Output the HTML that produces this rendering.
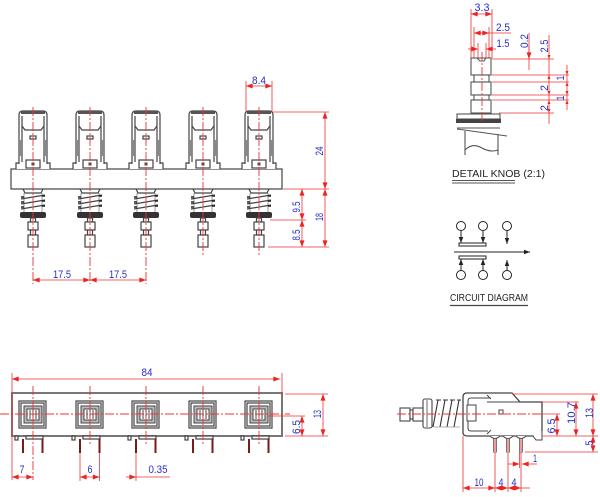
<!DOCTYPE html>
<html><head><meta charset="utf-8">
<style>
html,body{margin:0;padding:0;background:#fff;}
svg{display:block;}
.k{stroke:#444;fill:none;stroke-width:1.2}
.kw{stroke:#444;fill:#fff;stroke-width:1.2}
.r{stroke:#e33;stroke-width:0.8;fill:none}
.c{stroke:#e33;stroke-width:0.9;stroke-dasharray:9 2 2 2;fill:none}
.t{fill:#2630c8;font-family:"Liberation Sans",sans-serif;font-size:11px}
.b{fill:#222;font-family:"Liberation Sans",sans-serif;font-size:10px}
.d{marker-start:url(#a);marker-end:url(#a)}
.e{marker-end:url(#a)}
</style></head><body>
<svg width="600" height="497" viewBox="0 0 600 497" xmlns="http://www.w3.org/2000/svg">
<defs>
<marker id="a" viewBox="0 0 8 6" refX="8" refY="3" markerWidth="7" markerHeight="5" markerUnits="userSpaceOnUse" orient="auto-start-reverse"><path d="M0,0L8,3L0,6z" fill="#e22"/></marker>
<marker id="ka" viewBox="0 0 8 6" refX="8" refY="3" markerWidth="6" markerHeight="5" markerUnits="userSpaceOnUse" orient="auto"><path d="M0,0L8,3L0,6z" fill="#222"/></marker>
<g id="sw">
 <path class="kw" d="M-17,169 V163 H17 V169"/>
 <path class="kw" d="M-14,164 V115 Q-14,111 -10,111 H10 Q14,111 14,115 V164"/>
 <rect x="-12" y="111" width="24" height="3" fill="#555"/>
 <path class="k" d="M-11,116 V162 M11,116 V162" stroke-width="1"/>
 <rect x="-14" y="140" width="3" height="16" fill="#888"/>
 <rect x="11" y="140" width="3" height="16" fill="#888"/>
 <path class="k" d="M-11,126 L-8,130 H8 L11,126" stroke-width="1"/>
 <rect class="k" x="-3" y="136" width="6" height="3" stroke-width="0.9"/>
 <rect class="kw" x="-7" y="160" width="14" height="8" stroke-width="1"/>
 <rect x="-1.5" y="162.5" width="3" height="3" fill="#444"/>
 <path class="k" d="M-10,189 L-8,193 H8 L10,189" stroke-width="1"/>
 <path d="M-9,193 V213 M9,193 V213" stroke="#999" stroke-width="1"/>
 <path class="k" d="M-12,199 L12,195 M-12,204 L12,200 M-12,209 L12,205" stroke-width="1"/>
 <path d="M-12,197 H-9 M-12,202 H-9 M-12,207 H-9 M9,196 H12 M9,201 H12 M9,206 H12" stroke="#222" stroke-width="1.4"/>
 <rect x="-13" y="212" width="26" height="6" rx="2" fill="#333"/>
 <rect class="kw" x="-2.5" y="218" width="5" height="4" stroke-width="1"/>
 <rect class="kw" x="-5" y="222" width="10" height="8" stroke-width="1"/>
 <rect class="kw" x="-2.5" y="230" width="5" height="5" stroke-width="1"/>
 <rect class="kw" x="-5" y="235" width="10" height="12" stroke-width="1"/>
</g>
<g id="bt">
 <rect class="k" x="-14" y="401" width="27" height="27" stroke-width="1.4"/>
 <rect class="k" x="-12" y="403" width="23" height="23" stroke-width="0.8"/>
 <rect x="-9" y="406" width="18" height="17" fill="#bbb" stroke="#444" stroke-width="1"/>
 <rect x="-6" y="409" width="12" height="11" fill="#fff" stroke="#444" stroke-width="1"/>
 <path d="M-3,410 V419 M0,410 V419 M3,410 V419" stroke="#444" stroke-width="1"/>
 <rect class="kw" x="-18" y="436" width="3" height="4" stroke-width="0.8"/>
 <rect class="kw" x="-7" y="436" width="17" height="3" stroke-width="0.8"/>
 <path d="M-10,439 V453 M9.5,439 V453" stroke="#7a1a1a" stroke-width="2"/>
</g>
</defs>
<rect width="600" height="497" fill="#fff"/>

<!-- ===== FRONT VIEW ===== -->
<rect class="kw" x="11" y="169" width="271" height="20"/>
<use href="#sw" x="33"/>
<use href="#sw" x="90"/>
<use href="#sw" x="146"/>
<use href="#sw" x="203"/>
<use href="#sw" x="259"/>
<path class="c" d="M33,107 V284 M90,107 V284 M146,107 V284 M203,107 V255 M259,107 V255"/>
<line class="r d" x1="33" y1="280" x2="90" y2="280"/>
<line class="r d" x1="90" y1="280" x2="146" y2="280"/>
<text class="t" x="62" y="278" text-anchor="middle" textLength="18" lengthAdjust="spacingAndGlyphs">17.5</text>
<text class="t" x="118" y="278" text-anchor="middle" textLength="18" lengthAdjust="spacingAndGlyphs">17.5</text>
<!-- 8.4 -->
<path class="r" d="M246,81 V111 M272,81 V111"/>
<line class="r d" x1="246" y1="86" x2="272" y2="86"/>
<text class="t" x="259" y="84" text-anchor="middle" textLength="14" lengthAdjust="spacingAndGlyphs">8.4</text>
<!-- right dims -->
<path class="r" d="M272,112 H329 M283,189 H329 M270,220 H306 M268,247 H329"/>
<line class="r d" x1="325" y1="112" x2="325" y2="189"/>
<line class="r d" x1="325" y1="189" x2="325" y2="247"/>
<line class="r d" x1="302" y1="189" x2="302" y2="220"/>
<line class="r d" x1="302" y1="220" x2="302" y2="247"/>
<text class="t" transform="translate(323,151) rotate(-90)" text-anchor="middle" textLength="9" lengthAdjust="spacingAndGlyphs">24</text>
<text class="t" transform="translate(323,217) rotate(-90)" text-anchor="middle" textLength="8" lengthAdjust="spacingAndGlyphs">18</text>
<text class="t" transform="translate(300,207) rotate(-90)" text-anchor="middle" textLength="11" lengthAdjust="spacingAndGlyphs">9.5</text>
<text class="t" transform="translate(300,235) rotate(-90)" text-anchor="middle" textLength="11" lengthAdjust="spacingAndGlyphs">8.5</text>

<!-- ===== DETAIL KNOB ===== -->
<g stroke="#555" fill="#fff" stroke-width="1.1">
 <rect x="471" y="58" width="20" height="17"/>
 <rect x="474" y="75" width="15" height="7"/>
 <rect x="471" y="82" width="20" height="13"/>
 <rect x="474" y="95" width="15" height="5"/>
 <rect x="471" y="100" width="20" height="13"/>
 <rect x="457" y="114" width="43" height="5"/>
</g>
<path d="M477,58 L480,61 H484 L486,58" stroke="#555" fill="none" stroke-width="1"/>
<rect x="456" y="119" width="45" height="4" fill="#444"/>
<path d="M457,128 H500 M457,129 L507,136 M465,131 V155 M498,134 V155 M465,150 Q472,143 480,147 Q490,153 498,150" stroke="#555" fill="none" stroke-width="1.1"/>
<line class="c" x1="482" y1="52" x2="482" y2="122"/>
<path class="r" d="M471,9 V58 M492,9 V58 M474,27 V58 M489,27 V58 M478,43 V58 M486,43 V58"/>
<line class="r d" x1="471" y1="14" x2="492" y2="14"/>
<line class="r" x1="474" y1="33" x2="511" y2="33"/>
<line class="r d" x1="474" y1="33" x2="489" y2="33"/>
<line class="r e" x1="468" y1="49" x2="478" y2="49"/>
<line class="r e" x1="496" y1="49" x2="486" y2="49"/>
<text class="t" x="482" y="11" text-anchor="middle" textLength="15" lengthAdjust="spacingAndGlyphs">3.3</text>
<text class="t" x="503" y="31" text-anchor="middle" textLength="14" lengthAdjust="spacingAndGlyphs">2.5</text>
<text class="t" x="503" y="47" text-anchor="middle" textLength="13" lengthAdjust="spacingAndGlyphs">1.5</text>
<path class="r" d="M492,59 H554 M492,75 H569 M492,82 H569 M492,95 H569 M492,100 H569 M499,113 H554"/>
<line class="r" x1="529" y1="33" x2="529" y2="70"/>
<line class="r e" x1="529" y1="45" x2="529" y2="59"/>
<line class="r" x1="549" y1="35" x2="549" y2="124"/>
<line class="r" x1="567" y1="65" x2="567" y2="110"/>
<g fill="#e22"><path d="M547.5,55 L549,59 L550.5,55z M547.5,79 L549,75 L550.5,79z M547.5,91 L549,95 L550.5,91z M547.5,104 L549,100 L550.5,104z M547.5,109 L549,113 L550.5,109z M565.5,71 L567,75 L568.5,71z M565.5,86 L567,82 L568.5,86z M565.5,91 L567,95 L568.5,91z M565.5,104 L567,100 L568.5,104z"/></g>
<text class="t" transform="translate(528,41) rotate(-90)" text-anchor="middle" textLength="14" lengthAdjust="spacingAndGlyphs">0.2</text>
<text class="t" transform="translate(548,46) rotate(-90)" text-anchor="middle" textLength="13" lengthAdjust="spacingAndGlyphs">2.5</text>
<text class="t" transform="translate(548,88) rotate(-90)" text-anchor="middle" textLength="6" lengthAdjust="spacingAndGlyphs">2</text>
<text class="t" transform="translate(548,108) rotate(-90)" text-anchor="middle" textLength="6" lengthAdjust="spacingAndGlyphs">2</text>
<text class="t" transform="translate(564,78) rotate(-90)" text-anchor="middle" textLength="5" lengthAdjust="spacingAndGlyphs">1</text>
<text class="t" transform="translate(564,98) rotate(-90)" text-anchor="middle" textLength="5" lengthAdjust="spacingAndGlyphs">1</text>
<text class="b" x="452" y="177" textLength="93" lengthAdjust="spacingAndGlyphs">DETAIL KNOB (2:1)</text>
<path d="M452,180.5 H515 M452,183 H515" stroke="#555" stroke-width="1"/>

<!-- ===== CIRCUIT DIAGRAM ===== -->
<g stroke="#222" fill="none" stroke-width="1">
 <circle cx="461" cy="226" r="4.5"/><circle cx="483" cy="226" r="4.5"/><circle cx="507" cy="226" r="4.5"/>
 <circle cx="461" cy="275" r="4.5"/><circle cx="483" cy="275" r="4.5"/><circle cx="507" cy="275" r="4.5"/>
 <line x1="461" y1="231" x2="461" y2="243" marker-end="url(#ka)"/>
 <line x1="483" y1="231" x2="483" y2="243" marker-end="url(#ka)"/>
 <line x1="507" y1="231" x2="507" y2="244" marker-end="url(#ka)"/>
 <rect x="459" y="243" width="27" height="3" fill="#fff"/>
 <line x1="454" y1="252" x2="530" y2="252" marker-end="url(#ka)"/>
 <rect x="459" y="256" width="27" height="3" fill="#fff"/>
 <line x1="461" y1="270" x2="461" y2="259" marker-end="url(#ka)"/>
 <line x1="483" y1="270" x2="483" y2="259" marker-end="url(#ka)"/>
 <line x1="507" y1="270" x2="507" y2="260" marker-end="url(#ka)"/>
</g>
<text class="b" x="450" y="301" textLength="78" lengthAdjust="spacingAndGlyphs">CIRCUIT DIAGRAM</text>
<path d="M450,305.5 H528" stroke="#444" stroke-width="1.2"/>

<!-- ===== BOTTOM VIEW ===== -->
<rect x="12" y="393" width="270" height="43" fill="#fff" stroke="#777" stroke-width="2"/>
<use href="#bt" x="33"/>
<use href="#bt" x="90"/>
<use href="#bt" x="146"/>
<use href="#bt" x="203"/>
<use href="#bt" x="259"/>
<line class="c" x1="0" y1="414" x2="290" y2="414"/>
<path class="c" d="M33,386 V480 M90,386 V444 M146,386 V444 M203,386 V444 M259,386 V444"/>
<path class="r" d="M12,373 V480 M282,373 V395"/>
<line class="r d" x1="12" y1="379" x2="280" y2="379"/>
<text class="t" x="147" y="376" text-anchor="middle" textLength="11" lengthAdjust="spacingAndGlyphs">84</text>
<line class="r d" x1="12" y1="477" x2="33" y2="477"/>
<text class="t" x="22" y="473" text-anchor="middle" textLength="5" lengthAdjust="spacingAndGlyphs">7</text>
<path class="r" d="M80,453 V481 M99.5,453 V481 M136,453 V481"/>
<line class="r d" x1="80" y1="477" x2="99.5" y2="477"/>
<text class="t" x="90" y="473" text-anchor="middle" textLength="5" lengthAdjust="spacingAndGlyphs">6</text>
<line class="r e" x1="126" y1="477" x2="136" y2="477"/>
<line class="r" x1="136" y1="477" x2="170" y2="477"/>
<text class="t" x="158" y="473" text-anchor="middle" textLength="19" lengthAdjust="spacingAndGlyphs">0.35</text>
<path class="r" d="M285,394 H328 M285,436 H328 M268,416 H305"/>
<line class="r d" x1="323" y1="394" x2="323" y2="436"/>
<line class="r d" x1="302" y1="416" x2="302" y2="436"/>
<text class="t" transform="translate(321,414) rotate(-90)" text-anchor="middle" textLength="8" lengthAdjust="spacingAndGlyphs">13</text>
<text class="t" transform="translate(300,427) rotate(-90)" text-anchor="middle" textLength="14" lengthAdjust="spacingAndGlyphs">6.5</text>

<!-- ===== SIDE VIEW ===== -->
<g stroke="#444" fill="#fff" stroke-width="1.1">
 <rect x="400" y="408" width="10" height="13"/>
 <rect x="410" y="410" width="3" height="9"/>
 <rect x="413" y="408" width="10" height="13"/>
 <rect x="423" y="399" width="9" height="29" rx="2"/>
</g>
<path d="M427,400 V427" stroke="#444" stroke-width="0.8"/>
<path d="M433,427 L438,400 M440,427 L445,400 M447,427 L452,400 M454,427 L459,400 M436,400 H441 M443,400 H448 M450,400 H455 M457,400 H461" stroke="#333" stroke-width="1.1" fill="none"/>
<path d="M434,427 H460" stroke="#999" stroke-width="0.8"/>
<path d="M463,433 V397 Q463,393 467,393 H512 L520,402 H542 V430 L538,436 H468 Q463,436 463,433 Z" stroke="#444" fill="#fff" stroke-width="1.3"/>
<path d="M490,398 H471 Q468,398 468,401 V428 Q468,431 471,431 H488 M487,395 L491,399 M487,434 L491,430 M487,402 H520" stroke="#444" fill="none" stroke-width="1"/>
<rect x="467" y="405" width="9" height="16" stroke="#444" fill="#fff" stroke-width="1"/>
<rect x="499" y="410" width="4" height="4" stroke="#444" fill="none" stroke-width="1"/>
<path d="M490,436 Q495,441 500,436 M503,436 Q508,441 513,436 M516,436 Q521,441 526,436 M533,436 L536,440 H542 V430" stroke="#444" fill="#fff" stroke-width="1"/>
<g stroke="#777" fill="#fff" stroke-width="1">
 <rect x="493.5" y="439" width="3" height="13"/>
 <rect x="506.5" y="439" width="3" height="13"/>
 <rect x="519.5" y="439" width="3" height="13"/>
</g>
<path d="M495,440 V451 M508,440 V451 M521,440 V451" stroke="#e33" stroke-width="1"/>
<line class="c" x1="397" y1="414" x2="542" y2="414"/>
<path class="r" d="M512,394 H598 M542,402 H579 M542,414 H560 M542,436 H598 M525,452 H598"/>
<line class="r d" x1="557" y1="414" x2="557" y2="436"/>
<line class="r d" x1="576" y1="402" x2="576" y2="436"/>
<line class="r d" x1="593" y1="394" x2="593" y2="436"/>
<line class="r d" x1="593" y1="436" x2="593" y2="452"/>
<text class="t" transform="translate(555,426) rotate(-90)" text-anchor="middle" textLength="15" lengthAdjust="spacingAndGlyphs">6.5</text>
<text class="t" transform="translate(575,413) rotate(-90)" text-anchor="middle" textLength="22" lengthAdjust="spacingAndGlyphs">10.7</text>
<text class="t" transform="translate(593,413) rotate(-90)" text-anchor="middle" textLength="10" lengthAdjust="spacingAndGlyphs">13</text>
<text class="t" transform="translate(593,443) rotate(-90)" text-anchor="middle" textLength="5" lengthAdjust="spacingAndGlyphs">5</text>
<path class="r" d="M463,436 V492 M495,452 V492 M508,452 V492 M521,452 V492 M519.5,452 V468"/>
<line class="r d" x1="463" y1="488" x2="495" y2="488"/>
<line class="r d" x1="495" y1="488" x2="508" y2="488"/>
<line class="r d" x1="508" y1="488" x2="521" y2="488"/>
<line class="r" x1="521" y1="488" x2="530" y2="488"/>
<line class="r e" x1="508" y1="464" x2="519.5" y2="464"/>
<line class="r e" x1="537" y1="464" x2="522" y2="464"/>
<text class="t" x="535" y="462" text-anchor="middle" textLength="4" lengthAdjust="spacingAndGlyphs">1</text>
<text class="t" x="479" y="486" text-anchor="middle" textLength="9" lengthAdjust="spacingAndGlyphs">10</text>
<text class="t" x="501" y="486" text-anchor="middle" textLength="5" lengthAdjust="spacingAndGlyphs">4</text>
<text class="t" x="514" y="486" text-anchor="middle" textLength="5" lengthAdjust="spacingAndGlyphs">4</text>
</svg>
</body></html>
